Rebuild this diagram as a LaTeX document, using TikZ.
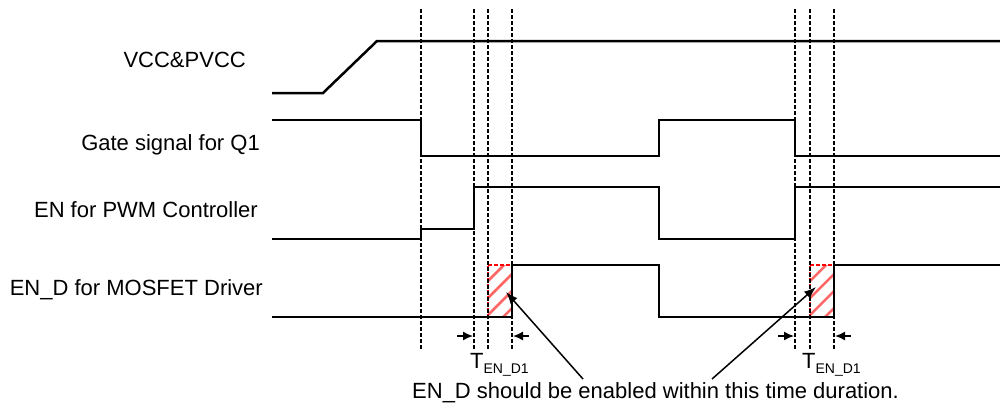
\documentclass[tikz,border=0pt]{standalone}
\usepackage{fontspec}
\setmainfont{Liberation Sans}
\usetikzlibrary{arrows.meta}
\begin{document}
\begin{tikzpicture}[x=1pt,y=-1pt,
  sig/.style={line width=2.5pt, line join=miter},
  guide/.style={line width=2.5pt, dash pattern=on 3.5pt off 2.5pt},
  hatchline/.style={red!60, line width=2.5pt},
  redge/.style={red, line width=2.5pt, dash pattern=on 3.5pt off 2.5pt},
  leader/.style={line width=1.5pt, -{Latex[length=12pt,width=9pt]}},
  tick/.style={line width=1.5pt, -{Latex[length=10pt,width=9pt]}},
  lbl/.style={font=\fontsize{22}{26}\selectfont, inner sep=0pt, anchor=base east},
  tlbl/.style={font=\fontsize{22}{26}\selectfont, inner sep=0pt, anchor=base west}]
\useasboundingbox (0,0) rectangle (1000,408);

% hatched windows
\foreach \xa/\xb in {488/512, 810/834}{
  \begin{scope}
    \clip (\xa,265) rectangle (\xb,317);
    \foreach \k in {-70,-53,...,40}
      \draw[hatchline] (\xa+\k,317) -- ++(60,-60);
  \end{scope}
  \draw[redge] (\xa,265) -- (\xb,265);
  \draw[redge] (\xa,317) -- (\xa,265);
}

% guide lines
\foreach \gx in {421,474,488,512,795,810,834}
  \draw[guide] (\gx,9) -- (\gx,349);

% signals
\draw[sig] (272,93) -- (323,93) -- (377,41) -- (1000,41);
\draw[sig] (272,120) -- (421,120) -- (421,156) -- (659,156) -- (659,120) -- (795,120) -- (795,156) -- (1000,156);
\draw[sig] (272,239) -- (421,239) -- (421,229) -- (474,229) -- (474,187) -- (659,187) -- (659,239) -- (795,239) -- (795,187) -- (1000,187);
\draw[sig] (272,317) -- (512,317) -- (512,265) -- (659,265) -- (659,317) -- (834,317) -- (834,265) -- (1000,265);

% labels
\node[lbl] (vcc) at (246,67) {VCC\&PVCC};
\node[lbl] (gate) at (260,150) {Gate signal for Q1};
\node[lbl] (en) at (258,217) {EN for PWM Controller};
\node[lbl] (end) at (263,295) {EN\_D for MOSFET Driver};

% timing ticks
\coordinate (a1) at (457,336); \coordinate (a1e) at (473,336);
\coordinate (b1) at (529,336); \coordinate (b1e) at (513,336);
\coordinate (a2) at (778,336); \coordinate (a2e) at (794,336);
\coordinate (b2) at (851,336); \coordinate (b2e) at (835,336);
\draw[tick] (a1) -- (a1e);
\draw[tick] (b1) -- (b1e);
\draw[tick] (a2) -- (a2e);
\draw[tick] (b2) -- (b2e);

\node[tlbl] (t1) at (470,368) {T{\fontsize{14}{16}\selectfont\raisebox{-5pt}{EN\_D1}}};
\node[tlbl] (t2) at (802,368) {T{\fontsize{14}{16}\selectfont\raisebox{-5pt}{EN\_D1}}};

% note
\node[tlbl] (note) at (412,398) {EN\_D should be enabled within this time duration.};
\coordinate (n1) at (583,379);
\coordinate (n2) at (712,379);
\coordinate (h1) at (506,292);
\coordinate (h2) at (816,287);
\draw[leader] (n1) -- (h1);
\draw[leader] (n2) -- (h2);
\end{tikzpicture}
\end{document}
